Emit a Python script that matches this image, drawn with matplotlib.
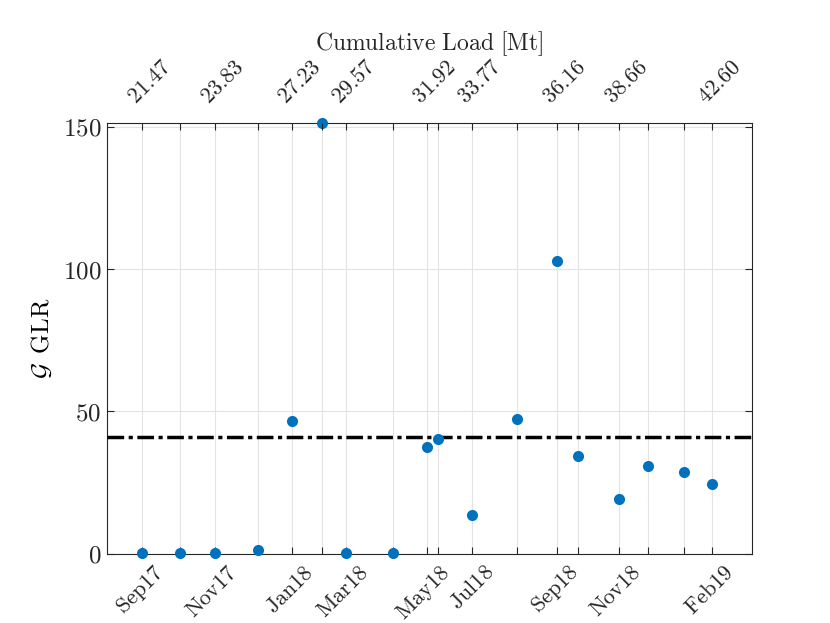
import matplotlib
matplotlib.use("Agg")
import matplotlib.pyplot as plt
import matplotlib.transforms as mtrans

# x positions: days since first survey
days = [0, 34, 66, 105, 136, 163, 185, 228, 259, 269, 300, 341, 377, 396, 433, 460, 492, 518]
glr = [0.2, 0.1, 0.2, 1.2, 46.6, 151.3, 0.2, 0.3, 37.6, 40.2, 13.5, 47.5, 102.9, 34.5, 19.2, 31.0, 28.7, 24.5]
threshold = 41.0

date_labels = ["Sep17", "", "Nov17", "", "Jan18", "", "Mar18", "", "May18", "",
               "Jul18", "", "Sep18", "", "Nov18", "", "", "Feb19"]
load_labels = ["21.47", "", "23.83", "", "27.23", "", "29.57", "", "31.92", "",
               "33.77", "", "36.16", "", "38.66", "", "", "42.60"]
y_ticks = [0, 50, 100, 150]

plt.rcParams['mathtext.fontset'] = 'cm'
plt.rcParams['font.family'] = ['DejaVu Serif']

def m(s):
    return r'$\mathrm{' + s.replace(' ', r'\ ') + '}$' if s else ''

FS_ROT = 16
fig = plt.figure(figsize=(8.30, 6.23), dpi=100)
ax = fig.add_axes([107.3/830, 1-553.7/623, (751.7-107.3)/830, (553.7-123.3)/623])

edge = '#262626'
ax.grid(True, color='#e3e3e3', linewidth=0.8)
ax.set_axisbelow(True)
ax.axhline(threshold, color='black', linewidth=2.5, linestyle=(0, (4.8, 1.3, 1.2, 1.3)), zorder=3)
ax.plot(days, glr, 'o', color='#0072BD', markersize=8.0, markeredgewidth=0, zorder=4, clip_on=False)

ax.set_xlim(-32, 554)
ax.set_ylim(0, 151.3)
ax.set_xticks(days)
ax.set_xticklabels([m(s) for s in date_labels], rotation=45, ha='right', rotation_mode='anchor', fontsize=FS_ROT)
ax.set_yticks(y_ticks)
ax.set_yticklabels([m(str(v)) for v in y_ticks], fontsize=18)
ax.set_ylabel(r'$\mathcal{G}\ \,\mathrm{GLR}$', fontsize=18, labelpad=6)

for s in ax.spines.values():
    s.set_color(edge)
    s.set_linewidth(0.8)
ax.tick_params(axis='both', direction='in', length=5, width=0.8, color=edge, labelcolor='#262626', right=True)
ax.tick_params(axis='x', pad=5.5)
ax.tick_params(axis='y', pad=4.5)
shift_b = mtrans.ScaledTranslation(11/100, 0, fig.dpi_scale_trans)
for lab in ax.get_xticklabels():
    lab.set_transform(lab.get_transform() + shift_b)

ax2 = ax.twiny()
ax2.set_xlim(ax.get_xlim())
ax2.set_xticks(days)
ax2.set_xticklabels([m(s) for s in load_labels], rotation=45, ha='left', rotation_mode='anchor', fontsize=FS_ROT)
ax2.tick_params(axis='x', direction='in', length=5, width=0.8, color=edge, labelcolor='#262626', pad=11)
shift_t = mtrans.ScaledTranslation(-3/100, 0, fig.dpi_scale_trans)
for lab in ax2.get_xticklabels():
    lab.set_transform(lab.get_transform() + shift_t)
ax2.set_xlabel(m('Cumulative Load [Mt]'), fontsize=17, labelpad=4, color='#262626')
for s in ax2.spines.values():
    s.set_visible(False)

fig.savefig('out.png', dpi=100)
